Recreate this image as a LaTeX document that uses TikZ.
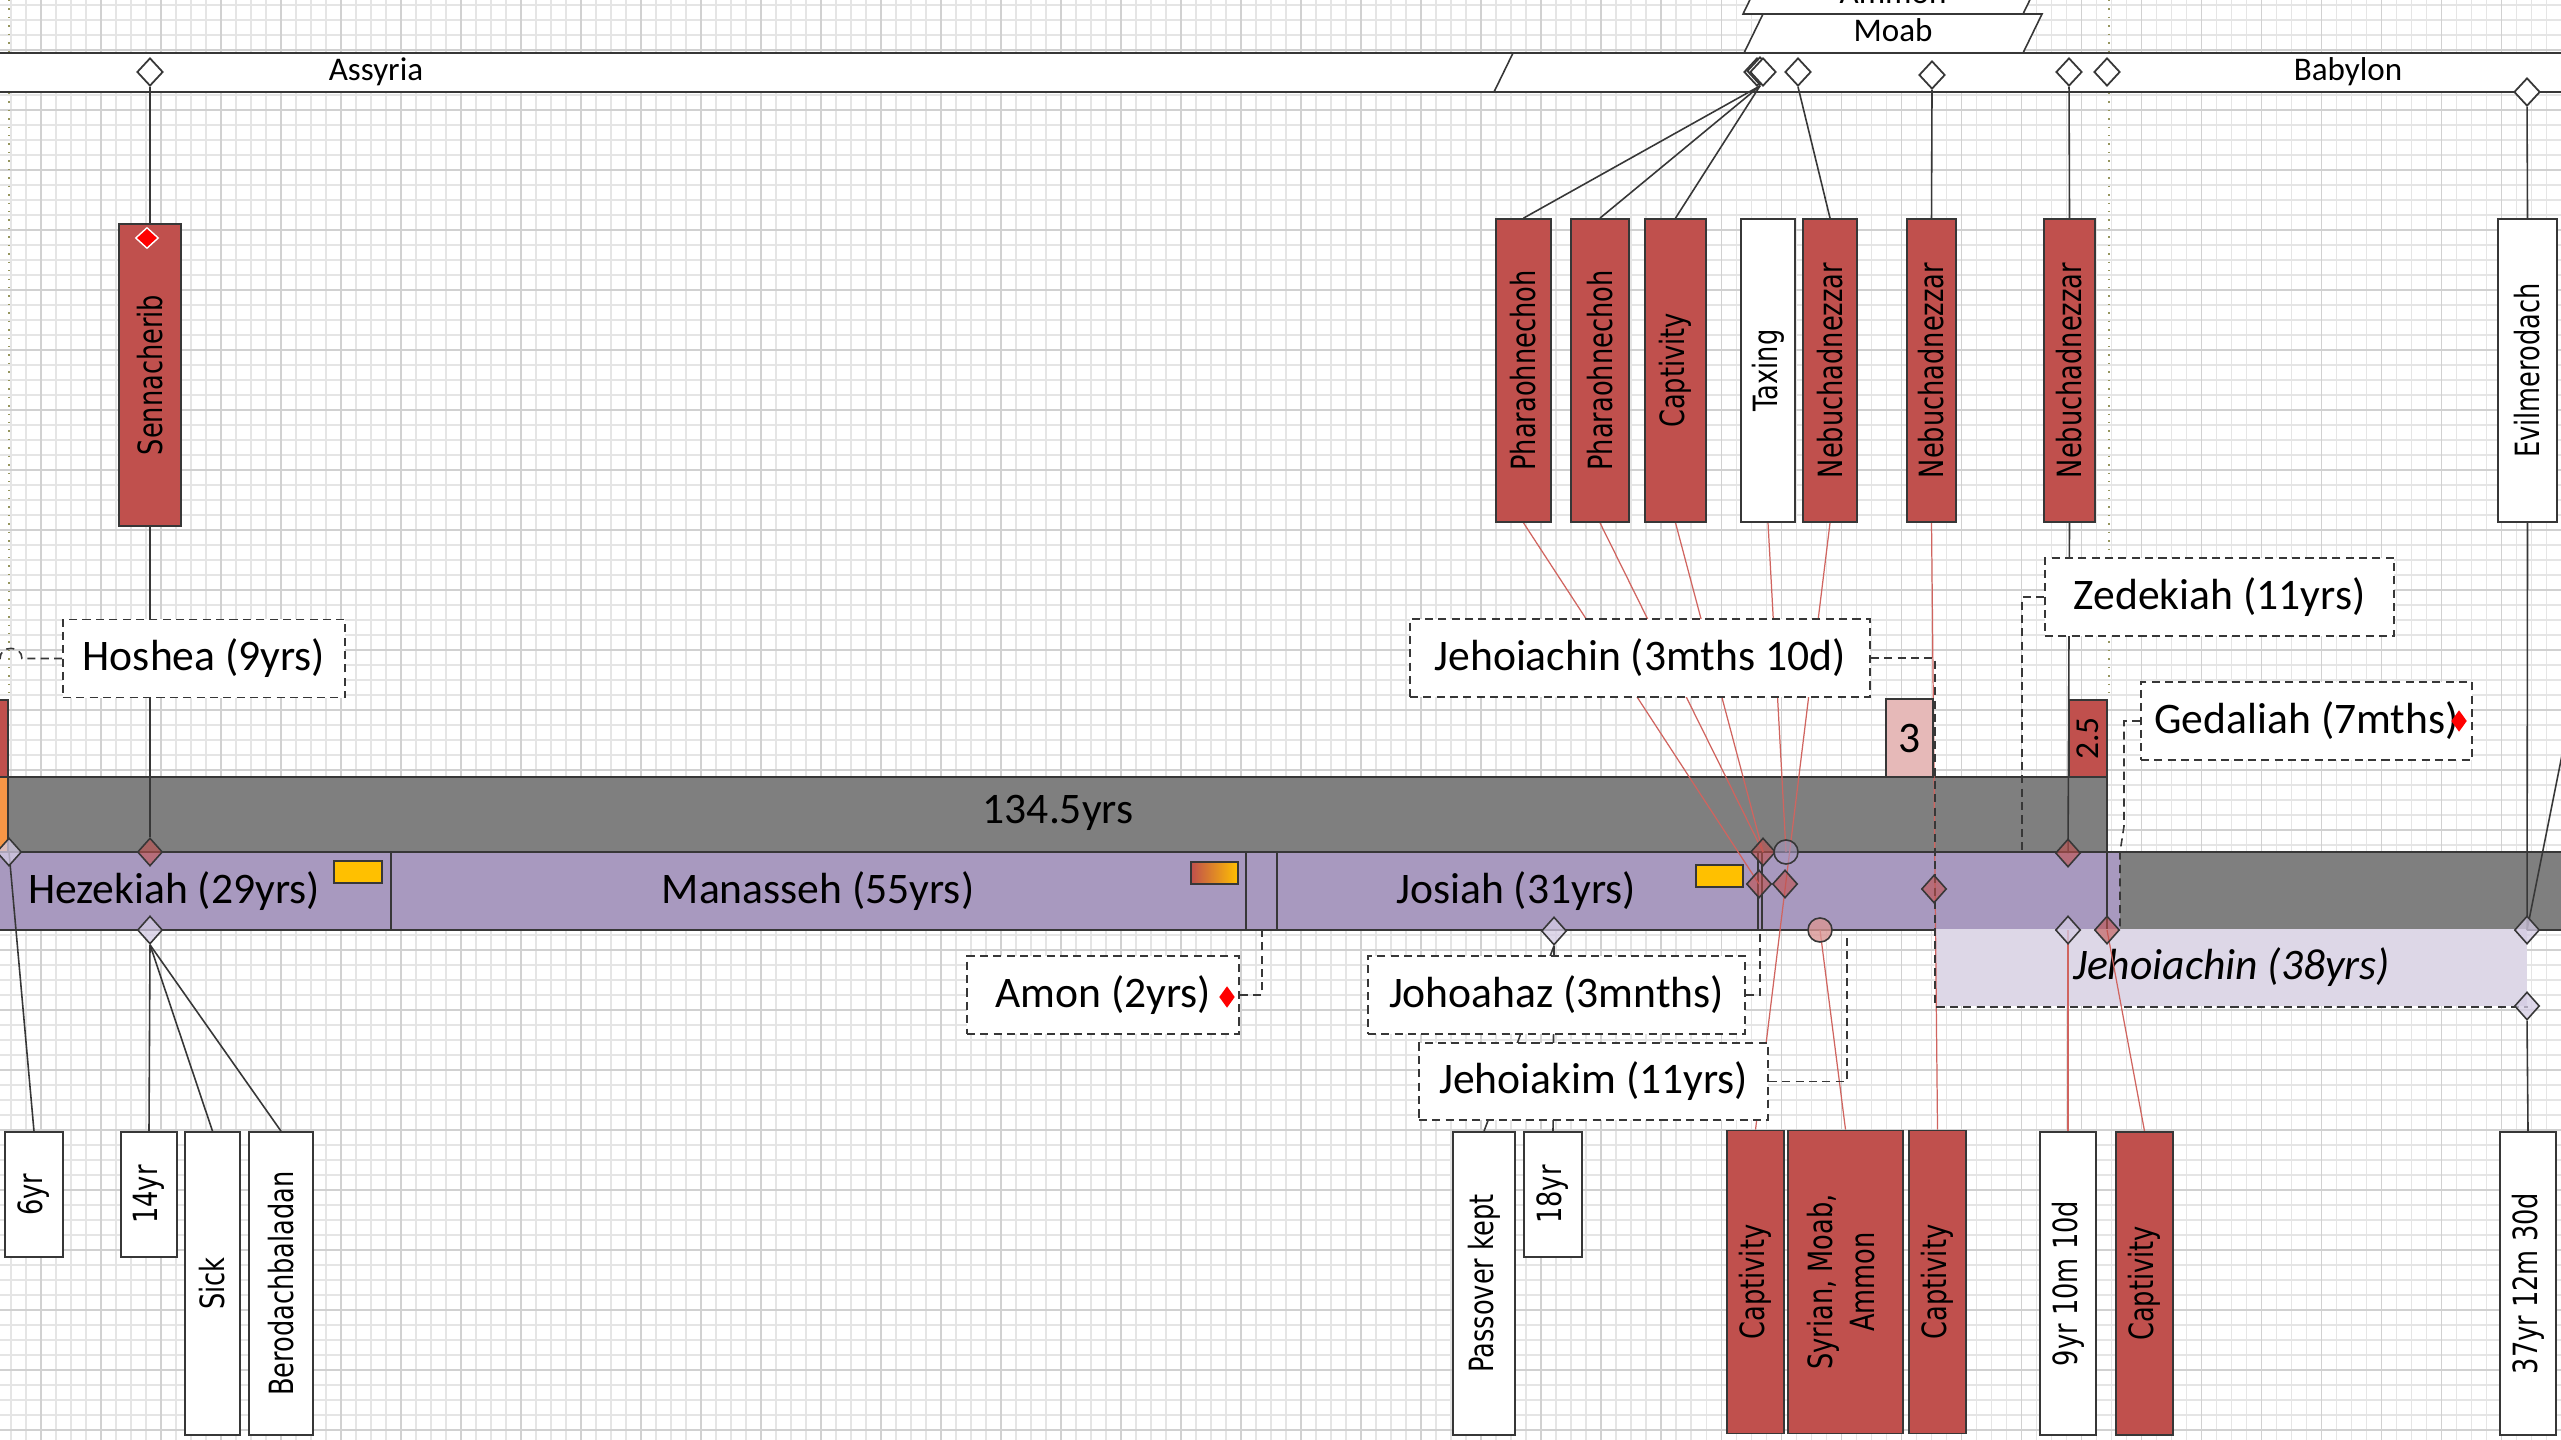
\documentclass[tikz,border=0pt]{standalone}
\usepackage{fontspec}
\usepackage{graphicx}
\setmainfont{Carlito}
\newfontfamily\boxfont{DejaVu Sans}
\usetikzlibrary{shapes.geometric}

\pgfdeclarelayer{grid}
\pgfdeclarelayer{bars}
\pgfdeclarelayer{links}
\pgfsetlayers{grid,bars,links,main}

\definecolor{boxred}{RGB}{192,80,77}
\definecolor{lineGray}{RGB}{55,55,55}
\definecolor{barGray}{RGB}{127,127,127}
\definecolor{kingPurple}{RGB}{168,153,191}
\definecolor{jehLav}{RGB}{221,215,231}
\definecolor{pinkThree}{RGB}{230,185,184}
\definecolor{gold}{RGB}{255,192,0}
\definecolor{stripOrange}{RGB}{247,150,70}
\definecolor{redline}{RGB}{208,100,95}
\definecolor{markLav}{RGB}{212,203,228}
\definecolor{pageOlive}{RGB}{150,150,95}

\newcommand{\kingfont}{\fontsize{12.4}{15}\selectfont}
\newcommand{\nationfont}{\fontsize{9.4}{11}\selectfont}
\newcommand{\vlab}[1]{\rotatebox{90}{\scalebox{1}[1.3]{\boxfont\fontsize{7.3}{9.2}\selectfont #1}}}

\tikzset{
  redbox/.style={draw=lineGray, fill=boxred, line width=0.45pt, inner sep=0pt},
  whitebox/.style={draw=lineGray, fill=white, line width=0.45pt, inner sep=0pt},
  tallbox/.style={minimum height=3.03cm},
  shortbox/.style={minimum height=1.25cm},
  kingbox/.style={draw=lineGray, fill=white, dash pattern=on 2.3pt off 1.5pt, line width=0.45pt,
    inner sep=0pt, minimum height=0.78cm, font=\kingfont},
  topmk/.style={diamond, draw=lineGray, fill=white, line width=0.5pt, inner sep=0pt,
    minimum width=0.26cm, minimum height=0.28cm},
  barmk/.style={diamond, draw=lineGray, fill=boxred, fill opacity=0.6, line width=0.45pt,
    inner sep=0pt, minimum width=0.25cm, minimum height=0.28cm},
  lavmk/.style={barmk, fill=markLav, fill opacity=0.75},
  ringmk/.style={circle, draw=lineGray, line width=0.45pt, inner sep=0pt, minimum size=0.24cm},
  alertmk/.style={diamond, fill=red, inner sep=0pt, minimum width=0.16cm, minimum height=0.22cm},
  blacklink/.style={draw=lineGray, line width=0.45pt},
  redlink/.style={draw=redline, line width=0.35pt},
  dashlink/.style={draw=lineGray, line width=0.45pt, dash pattern=on 2.3pt off 1.5pt},
  gridline/.style={draw=black!10, line width=0.3pt},
  gridmajor/.style={draw=black!18, line width=0.3pt},
  pagebreak/.style={draw=pageOlive, line width=0.4pt, dotted}
}

\begin{document}
\begin{tikzpicture}[x=0.01cm, y=-0.01cm]

% paper grid
\begin{pgfonlayer}{grid}
  \fill[white] (0,0) rectangle (2561,1440);
  \foreach \gx in {11,26,...,2561} \draw[gridline] (\gx,0) -- (\gx,1440);
  \foreach \gy in {5,20,...,1440} \draw[gridline] (0,\gy) -- (2561,\gy);
  \foreach \gx in {41,101,...,2561} \draw[gridmajor] (\gx,0) -- (\gx,1440);
  \foreach \gy in {50,110,...,1440} \draw[gridmajor] (0,\gy) -- (2561,\gy);
  \draw[pagebreak] (9,0) -- (9,700);
  \draw[pagebreak] (2109,0) -- (2109,700);
\end{pgfonlayer}

% nations band and reign bars
\begin{pgfonlayer}{bars}
  \draw[lineGray, fill=white, line width=0.6pt] (-10,53) rectangle (2571,92);
  \draw[lineGray, line width=0.45pt] (1494,92) -- (1513,53);
  \draw[lineGray, fill=white, line width=0.45pt] (1744,53) -- (1763,14) -- (2042,14) -- (2023,53) -- cycle;
  \draw[lineGray, fill=white, line width=0.45pt] (1743,14) -- (1762,-25) -- (2042,-25) -- (2023,14) -- cycle;

  \fill[barGray] (-5,777) rectangle (2107,852);
  \fill[kingPurple] (-5,852) rectangle (2120,930);
  \fill[barGray] (2120,852) rectangle (2575,930);
  \draw[lineGray, line width=0.5pt] (-5,777) -- (2107,777) -- (2107,930);
  \draw[lineGray, line width=0.5pt] (-5,852) -- (2575,852);
  \draw[lineGray, line width=0.5pt] (-5,930) -- (2575,930);
  \foreach \dx in {391,1246,1277,1758,1762}
    \draw[lineGray, line width=0.45pt] (\dx,852) -- (\dx,930);
  \filldraw[fill=boxred, draw=lineGray, line width=0.4pt] (-5,700) rectangle (8,777);
  \filldraw[fill=stripOrange, draw=lineGray, line width=0.4pt] (-5,777) rectangle (8,852);

  \filldraw[fill=gold, draw=lineGray, line width=0.45pt] (334,861) rectangle (382,883);
  \shade[left color=boxred, right color=gold] (1191,862) rectangle (1238,884);
  \draw[lineGray, line width=0.45pt] (1191,862) rectangle (1238,884);
  \filldraw[fill=gold, draw=lineGray, line width=0.45pt] (1696,865) rectangle (1743,887);

  \node[fill=jehLav, inner sep=0pt, minimum width=5.91cm, minimum height=0.77cm,
    font=\kingfont\itshape] (jehB) at (2231.5,967.5) {Jehoiachin (38yrs)};
\end{pgfonlayer}

\node[font=\nationfont, anchor=base] (assyria) at (376,81) {Assyria};
\node[font=\nationfont, anchor=base] (babylon) at (2348,81) {Babylon};
\node[font=\nationfont, anchor=base] (moab) at (1893,42) {Moab};
\node[font=\nationfont, anchor=base] (ammon) at (1893,4) {Ammon};

\node[font=\kingfont] (span) at (1058,813) {134.5yrs};
\node[font=\kingfont] (hezekiah) at (174,891) {Hezekiah (29yrs)};
\node[font=\kingfont] (manasseh) at (818,891) {Manasseh (55yrs)};
\node[font=\kingfont] (josiah) at (1516,891) {Josiah (31yrs)};

% upper event boxes
\node[redbox, minimum width=0.62cm, minimum height=3.02cm] (sen) at (150,375) {\vlab{Sennacherib}};
\node[redbox, tallbox, minimum width=0.55cm] (pharaohA) at (1523.5,370.5) {\vlab{Pharaohnechoh}};
\node[redbox, tallbox, minimum width=0.58cm] (pharaohB) at (1600,370.5) {\vlab{Pharaohnechoh}};
\node[redbox, tallbox, minimum width=0.61cm] (captA) at (1675.5,370.5) {\vlab{Captivity}};
\node[whitebox, tallbox, minimum width=0.54cm] (taxing) at (1768,370.5) {\vlab{Taxing}};
\node[redbox, tallbox, minimum width=0.54cm] (nebA) at (1830,370.5) {\vlab{Nebuchadnezzar}};
\node[redbox, tallbox, minimum width=0.49cm] (nebB) at (1931.5,370.5) {\vlab{Nebuchadnezzar}};
\node[redbox, tallbox, minimum width=0.51cm] (nebC) at (2069.5,370.5) {\vlab{Nebuchadnezzar}};
\node[whitebox, tallbox, minimum width=0.59cm] (evil) at (2527.5,370.5) {\vlab{Evilmerodach}};

% kings
\node[kingbox, minimum width=2.82cm] (hoshea) at (204,658.5) {Hoshea (9yrs)};
\node[kingbox, minimum width=4.60cm] (jehA) at (1640,658) {Jehoiachin (3mths 10d)};
\node[kingbox, minimum width=3.49cm] (zed) at (2219.5,597) {Zedekiah (11yrs)};
\node[kingbox, minimum width=3.31cm] (ged) at (2306.5,721) {Gedaliah (7mths)};
\node[kingbox, minimum width=2.72cm] (amon) at (1103,995) {Amon (2yrs)};
\node[kingbox, minimum width=3.77cm] (joho) at (1556.5,995) {Johoahaz (3mnths)};
\node[kingbox, minimum width=3.49cm, minimum height=0.77cm] (jehK) at (1593.5,1081.5) {Jehoiakim (11yrs)};

\node[draw=lineGray, fill=pinkThree, line width=0.45pt, inner sep=0pt, minimum width=0.47cm,
  minimum height=0.78cm, font=\kingfont] (three) at (1909.5,738) {3};
\node[redbox, minimum width=0.38cm, minimum height=0.77cm] (twofive) at (2088,738.5)
  {\rotatebox{90}{\fontsize{9.5}{11}\selectfont 2.5}};

% lower event boxes
\node[whitebox, shortbox, minimum width=0.58cm] (six) at (34,1194.5) {\vlab{6yr}};
\node[whitebox, shortbox, minimum width=0.56cm] (fourteen) at (149,1194.5) {\vlab{14yr}};
\node[whitebox, tallbox, minimum width=0.55cm] (sick) at (212.5,1283.5) {\vlab{Sick}};
\node[whitebox, tallbox, minimum width=0.64cm] (berodach) at (281,1283.5) {\vlab{Berodachbaladan}};
\node[whitebox, tallbox, minimum width=0.62cm] (passover) at (1484,1283.5) {\vlab{Passover kept}};
\node[whitebox, shortbox, minimum width=0.58cm] (eighteen) at (1553,1194.5) {\vlab{18yr}};
\node[redbox, tallbox, minimum width=0.57cm] (captB) at (1755.5,1282) {\vlab{Captivity}};
\node[redbox, tallbox, minimum width=1.15cm] (syrian) at (1845.5,1282)
  {\vlab{\begin{tabular}{@{}c@{}}Syrian, Moab,\\Ammon\end{tabular}}};
\node[redbox, tallbox, minimum width=0.57cm] (captC) at (1937.5,1282) {\vlab{Captivity}};
\node[whitebox, tallbox, minimum width=0.56cm] (nine) at (2068,1283.5) {\vlab{9yr 10m 10d}};
\node[redbox, tallbox, minimum width=0.57cm] (captD) at (2144.5,1283.5) {\vlab{Captivity}};
\node[whitebox, tallbox, minimum width=0.56cm] (thirtyseven) at (2528,1283.5) {\vlab{37yr 12m 30d}};

% markers on the nations band
\node[topmk] (dSen) at (150,72) {};
\node[topmk] (dEgA) at (1757,72) {};
\node[topmk] (dEgB) at (1760,71) {};
\node[topmk] (dEgC) at (1763,72) {};
\node[topmk] (dNebA) at (1798,72) {};
\node[topmk] (dNebB) at (1932,75) {};
\node[topmk] (dNebC) at (2069,72) {};
\node[topmk] (dBab) at (2107,72) {};
\node[topmk] (dEvilTop) at (2527,92) {};

% markers on the reign bars
\node[lavmk] (dLeft) at (9,852) {};
\node[barmk] (dHezTop) at (150,852) {};
\node[lavmk] (dHezBot) at (150,930) {};
\node[lavmk] (dJoho) at (1554,931) {};
\node[barmk] (dJosA) at (1763,852) {};
\node[ringmk, fill=kingPurple, fill opacity=0.6] (cJosA) at (1786,852) {};
\node[barmk] (dJosB) at (1759,884) {};
\node[barmk] (dJosC) at (1785,884) {};
\node[ringmk, fill=boxred!60!white, fill opacity=0.8] (cJosB) at (1820,930) {};
\node[barmk] (dJosD) at (1934,889) {};
\node[barmk] (dZed) at (2068,853) {};
\node[lavmk] (dNine) at (2068,930) {};
\node[barmk] (dGed) at (2107,930) {};
\node[lavmk] (dEvil) at (2527,930) {};
\node[lavmk] (dEvilB) at (2527,1006) {};

\node[alertmk, draw=white, line width=0.4pt, minimum width=0.23cm, minimum height=0.21cm] (senAlert) at (147,238) {};
\node[alertmk] (amonAlert) at (1227,997) {};
\node[alertmk] (gedAlert) at (2459,721) {};

\coordinate (hosheaEnd) at (-5,658.5);
\coordinate (zedEnd) at (2022,852);
\coordinate (amonEnd) at (1262,930);
\coordinate (johoEnd) at (1760,930);
\coordinate (jehKEnd) at (1847,933);
\coordinate (offRight) at (2575,690);

\begin{pgfonlayer}{links}
  \draw[blacklink] (dSen.south) -- (sen.north);
  \draw[blacklink] (sen.south) -- (sen.south |- hoshea.north);
  \draw[blacklink] (hoshea.south -| dHezTop) -- (dHezTop.north);
  \draw[blacklink] (dLeft.center) -- (six.north);
  \draw[blacklink] (dHezBot.south) -- (fourteen.north);
  \draw[blacklink] (dHezBot.south) -- (sick.north);
  \draw[blacklink] (dHezBot.south) -- (berodach.north);
  \draw[blacklink] (dEgB.south) -- (pharaohA.north);
  \draw[blacklink] (dEgB.south) -- (pharaohB.north);
  \draw[blacklink] (dEgB.south) -- (captA.north);
  \draw[blacklink] (dNebA.south) -- (nebA.north);
  \draw[blacklink] (dNebB.south) -- (nebB.north);
  \draw[blacklink] (dNebC.south) -- (nebC.north);
  \draw[blacklink] (nebC.south) -- (dZed.center);
  \draw[blacklink] (dEvilTop.south) -- (evil.north);
  \draw[blacklink] (evil.south) -- (dEvil.center);
  \draw[blacklink] (offRight) -- (dEvil.center);
  \draw[blacklink] (dEvilB.south) -- (thirtyseven.north);
  \draw[blacklink] (dJoho.south) -- (eighteen.north);
  \draw[blacklink] (dJoho.south) -- (passover.north);

  \draw[redlink] (pharaohA.south) -- (dJosB.center);
  \draw[redlink] (pharaohB.south) -- (dJosA.center);
  \draw[redlink] (captA.south) -- (dJosA.center);
  \draw[redlink] (taxing.south) -- (cJosA.center);
  \draw[redlink] (nebA.south) -- (captB.north);
  \draw[redlink] (nebB.south) -- (captC.north);
  \draw[redlink] (cJosB.center) -- (syrian.north);
  \draw[redlink] (dNine.center) -- (nine.north);
  \draw[redlink] (dGed.center) -- (captD.north);

  \draw[dashlink] (hoshea.west) -- (22,658.5) .. controls (22,645) and (0,645) .. (0,658.5) -- (hosheaEnd);
  \draw[dashlink] (jehA.east) -| (jehB.south west) -- (jehB.south east);
  \draw[dashlink] (zed.west) -| (zedEnd);
  \draw[dashlink] (ged.west) -- (2124,721) -- (2124,826) -- (2120,852) -- (2120,930);
  \draw[dashlink] (amon.east) -| (amonEnd);
  \draw[dashlink] (joho.east) -| (johoEnd);
  \draw[dashlink] (jehK.east) -| (jehKEnd);
\end{pgfonlayer}

\pgfresetboundingbox
\useasboundingbox (0,0) rectangle (2561,1440);
\end{tikzpicture}
\end{document}
